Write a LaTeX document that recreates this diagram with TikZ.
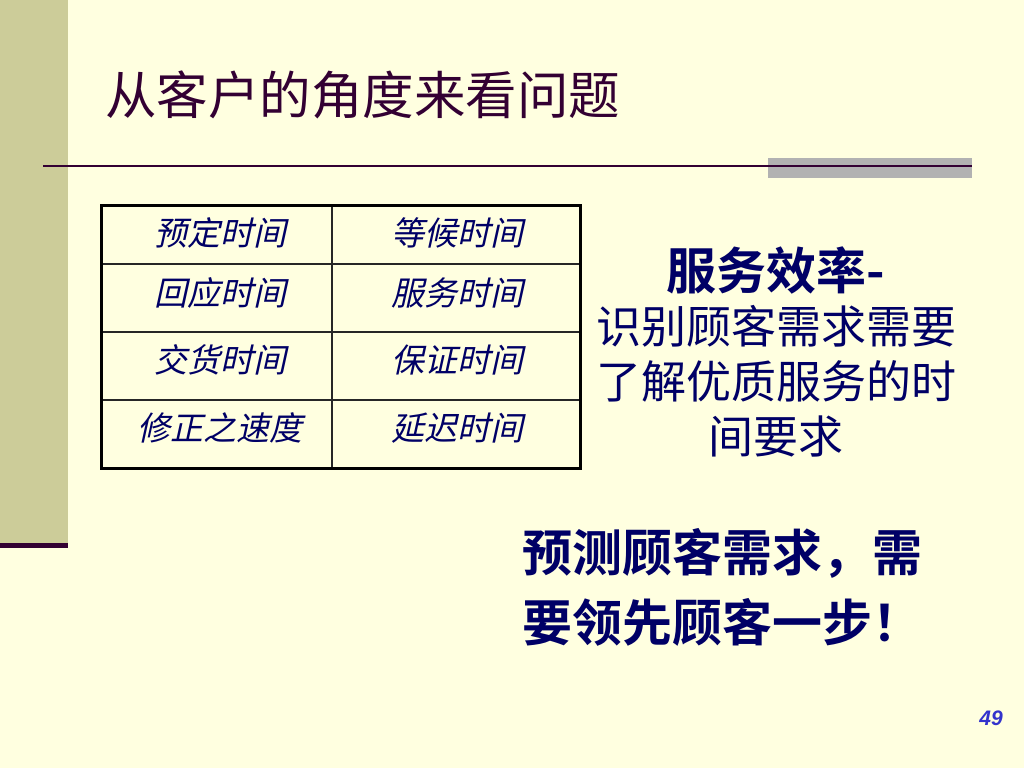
\documentclass[tikz,border=0pt]{standalone}
\usepackage{fontspec}
\setmainfont{Noto Sans CJK SC}[BoldFont={Noto Sans CJK SC Bold}]
\newfontfamily\cjkslant[FakeSlant=0.22]{Noto Sans CJK SC}
\newfontfamily\numfont{Liberation Sans}
\usetikzlibrary{positioning}
\definecolor{paper}{HTML}{FFFFE0}
\definecolor{sidebar}{HTML}{CCCC99}
\definecolor{plum}{HTML}{330033}
\definecolor{navy}{HTML}{000066}
\definecolor{greybox}{HTML}{B2B2B2}
\definecolor{pageblue}{HTML}{3333CC}

\begin{document}
\begin{tikzpicture}[x=1pt,y=-1pt,
      every node/.style={inner sep=0pt},
      cell/.style={font=\cjkslant\fontsize{33}{36}\selectfont,text=navy},
      grid/.style={draw=black!85,line width=1.6pt},
      %frame/.style={draw=black,line width=3pt},
      bigtext/.style={text=navy,align=center}]

      \fill[paper] (0,0) rectangle (1024,768);
      \useasboundingbox (0,0) rectangle (1024,768);

      % side bar and title rule
      \fill[sidebar] (0,0) rectangle (68,543);
      \fill[plum] (0,543) rectangle (68,548);
      \fill[greybox] (768,158) rectangle (972,178);
      \draw[plum,line width=2.6pt] (43,166) -- (972,166);

      \node[anchor=west,text=plum,font=\fontsize{51.5}{56}\selectfont] (title) at (105,95) {从客户的角度来看问题};

      % table
      \foreach \y in {264,332,400}
        \draw[grid] (101,\y) -- (580,\y);
      \draw[grid] (332,205) -- (332,468);
      \draw[draw=black,line width=3pt] (101,205) rectangle (580,468);
      \foreach \a/\b/\y [count=\r] in {预定时间/等候时间/233,
                                      回应时间/服务时间/293,
                                      交货时间/保证时间/360,
                                      修正之速度/延迟时间/428}{
        \node[cell] (l\r) at (220,\y) {\a};
        \node[cell] (r\r) at (457,\y) {\b};
      }

      % right column
      \node[bigtext,font=\bfseries\fontsize{50}{54}\selectfont] (effhead) at (776,270) {服务效率-};
      \node[bigtext,font=\fontsize{45}{55}\selectfont,below=16pt of effhead.base] (effbody)
        {识别顾客需求需要\\了解优质服务的时\\间要求};

      \node[bigtext,anchor=west,align=left,font=\bfseries\fontsize{50}{70}\selectfont] (ahead) at (522,587)
        {预测顾客需求，需\\要领先顾客一步！};

      \node[text=pageblue,font=\numfont\bfseries\itshape\fontsize{21}{24}\selectfont] (pnum) at (991,718) {49};

    \end{tikzpicture}
\end{document}
